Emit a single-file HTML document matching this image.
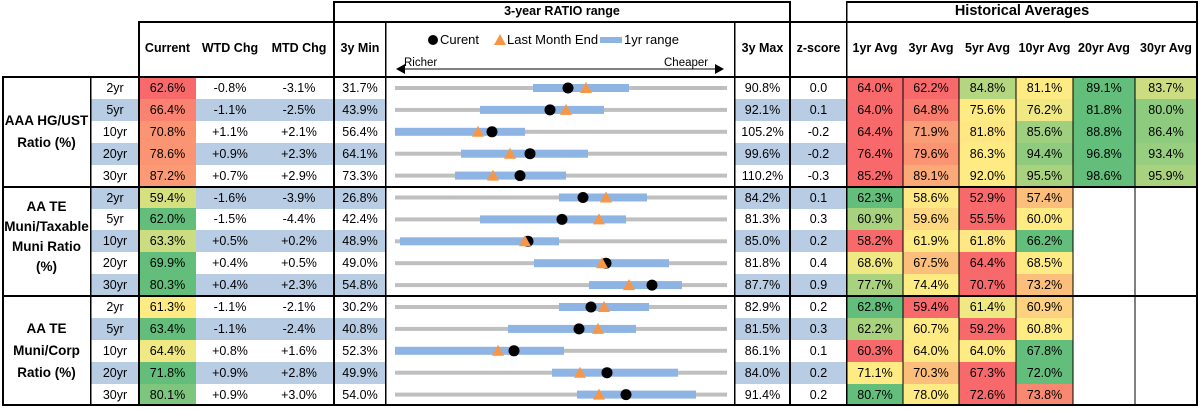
<!DOCTYPE html>
<html><head><meta charset="utf-8">
<style>
*{margin:0;padding:0;box-sizing:border-box}
body{width:1199px;height:409px;background:#fff;position:relative;overflow:hidden;font-family:"Liberation Sans",Arial,sans-serif;font-size:12.5px;color:#000}
.r{position:absolute;left:0;width:1199px;height:22px}
.r i{font-style:normal;position:absolute;top:0;height:22px;line-height:22px;text-align:center}
.t{left:91px;width:48px}.cu{left:139px;width:57px}.w{left:196px;width:68px}.m{left:264px;width:70px}
.mn{left:334px;width:52px}.mx{left:735px;width:55px}.z{left:790px;width:57px}
.a{left:847px;width:56px}.b{left:903px;width:56px}.c{left:959px;width:57px}.d{left:1016px;width:57px}.e{left:1073px;width:62px}.f{left:1135px;width:62px}
.s .t,.s .w,.s .m,.s .mn,.s .mx,.s .z{background:#b8cce4}
.h{position:absolute;font-weight:bold;text-align:center;font-size:12.5px}
.ln{position:absolute;background:#000}
.g{position:absolute;left:2px;width:89px;font-weight:bold;text-align:center;font-size:13.5px;line-height:22px}
</style></head><body>

<div class="h" style="left:139px;width:57px;top:41px">Current</div>
<div class="h" style="left:196px;width:68px;top:41px">WTD Chg</div>
<div class="h" style="left:264px;width:70px;top:41px">MTD Chg</div>
<div class="h" style="left:334px;width:52px;top:41px">3y Min</div>
<div class="h" style="left:735px;width:55px;top:41px">3y Max</div>
<div class="h" style="left:790px;width:57px;top:41px">z-score</div>
<div class="h" style="left:847px;width:56px;top:41px">1yr Avg</div>
<div class="h" style="left:903px;width:56px;top:41px">3yr Avg</div>
<div class="h" style="left:959px;width:57px;top:41px">5yr Avg</div>
<div class="h" style="left:1016px;width:57px;top:41px">10yr Avg</div>
<div class="h" style="left:1073px;width:62px;top:41px">20yr Avg</div>
<div class="h" style="left:1135px;width:62px;top:41px">30yr Avg</div>
<div class="h" style="left:334px;width:456px;top:4px">3-year RATIO range</div>
<div class="h" style="left:847px;width:350px;top:3px;font-size:14.5px">Historical Averages</div>
<div style="position:absolute;left:440px;top:32px;font-size:13px">Curent</div>
<div style="position:absolute;left:507px;top:32px;font-size:13px">Last Month End</div>
<div style="position:absolute;left:624px;top:32px;font-size:13px">1yr range</div>
<div style="position:absolute;left:404px;top:57px;font-size:11.5px">Richer</div>
<div style="position:absolute;left:664px;top:57px;font-size:11.5px">Cheaper</div>

<div class="g" style="top:110px">AAA HG/UST<br>Ratio (%)</div>
<div class="g" style="top:197px;line-height:20px">AA TE<br>Muni/Taxable<br>Muni Ratio<br>(%)</div>
<div class="g" style="top:318px">AA TE<br>Muni/Corp<br>Ratio (%)</div>

<div class="r" style="top:77px"><i class="t">2yr</i><i class="cu" style="background:#f8696b">62.6%</i><i class="w">-0.8%</i><i class="m">-3.1%</i><i class="mn">31.7%</i><i class="mx">90.8%</i><i class="z">0.0</i><i class="a" style="background:#f8696b">64.0%</i><i class="b" style="background:#f8696b">62.2%</i><i class="c" style="background:#b5d680">84.8%</i><i class="d" style="background:#ffeb84">81.1%</i><i class="e" style="background:#63be7b">89.1%</i><i class="f" style="background:#cbdc81">83.7%</i></div>
<div class="r s" style="top:98.9px"><i class="t">5yr</i><i class="cu" style="background:#f98370">66.4%</i><i class="w">-1.1%</i><i class="m">-2.5%</i><i class="mn">43.9%</i><i class="mx">92.1%</i><i class="z">0.1</i><i class="a" style="background:#f8696b">64.0%</i><i class="b" style="background:#f97b6e">64.8%</i><i class="c" style="background:#ffeb84">75.6%</i><i class="d" style="background:#f0e883">76.2%</i><i class="e" style="background:#63be7b">81.8%</i><i class="f" style="background:#8ecb7e">80.0%</i></div>
<div class="r" style="top:120.8px"><i class="t">10yr</i><i class="cu" style="background:#fa9473">70.8%</i><i class="w">+1.1%</i><i class="m">+2.1%</i><i class="mn">56.4%</i><i class="mx">105.2%</i><i class="z">-0.2</i><i class="a" style="background:#f8696b">64.4%</i><i class="b" style="background:#fa9c75">71.9%</i><i class="c" style="background:#ffe883">81.8%</i><i class="d" style="background:#9fd07f">85.6%</i><i class="e" style="background:#63be7b">88.8%</i><i class="f" style="background:#8ecb7e">86.4%</i></div>
<div class="r s" style="top:142.7px"><i class="t">20yr</i><i class="cu" style="background:#fa9473">78.6%</i><i class="w">+0.9%</i><i class="m">+2.3%</i><i class="mn">64.1%</i><i class="mx">99.6%</i><i class="z">-0.2</i><i class="a" style="background:#f8696b">76.4%</i><i class="b" style="background:#fa9473">79.6%</i><i class="c" style="background:#ffeb84">86.3%</i><i class="d" style="background:#8fcb7e">94.4%</i><i class="e" style="background:#63be7b">96.8%</i><i class="f" style="background:#97ce7f">93.4%</i></div>
<div class="r" style="top:164.6px"><i class="t">30yr</i><i class="cu" style="background:#fb9a74">87.2%</i><i class="w">+0.7%</i><i class="m">+2.9%</i><i class="mn">73.3%</i><i class="mx">110.2%</i><i class="z">-0.3</i><i class="a" style="background:#f8696b">85.2%</i><i class="b" style="background:#fbaa77">89.1%</i><i class="c" style="background:#ffeb84">92.0%</i><i class="d" style="background:#a9d27f">95.5%</i><i class="e" style="background:#63be7b">98.6%</i><i class="f" style="background:#a9d27f">95.9%</i></div>

<div class="r s" style="top:186.5px"><i class="t">2yr</i><i class="cu" style="background:#d6e081">59.4%</i><i class="w">-1.6%</i><i class="m">-3.9%</i><i class="mn">26.8%</i><i class="mx">84.2%</i><i class="z">0.1</i><i class="a" style="background:#63be7b">62.3%</i><i class="b" style="background:#ffe883">58.6%</i><i class="c" style="background:#f8696b">52.9%</i><i class="d" style="background:#fcbf7b">57.4%</i></div>
<div class="r" style="top:208.4px"><i class="t">5yr</i><i class="cu" style="background:#63be7b">62.0%</i><i class="w">-1.5%</i><i class="m">-4.4%</i><i class="mn">42.4%</i><i class="mx">81.3%</i><i class="z">0.3</i><i class="a" style="background:#a9d27f">60.9%</i><i class="b" style="background:#fed880">59.6%</i><i class="c" style="background:#f8696b">55.5%</i><i class="d" style="background:#ffeb84">60.0%</i></div>
<div class="r s" style="top:230.3px"><i class="t">10yr</i><i class="cu" style="background:#cbdc81">63.3%</i><i class="w">+0.5%</i><i class="m">+0.2%</i><i class="mn">48.9%</i><i class="mx">85.0%</i><i class="z">0.2</i><i class="a" style="background:#f8696b">58.2%</i><i class="b" style="background:#ffeb84">61.9%</i><i class="c" style="background:#ffe883">61.8%</i><i class="d" style="background:#63be7b">66.2%</i></div>
<div class="r" style="top:252.2px"><i class="t">20yr</i><i class="cu" style="background:#63be7b">69.9%</i><i class="w">+0.4%</i><i class="m">+0.5%</i><i class="mn">49.0%</i><i class="mx">81.8%</i><i class="z">0.4</i><i class="a" style="background:#f0e883">68.6%</i><i class="b" style="background:#fcbf7b">67.5%</i><i class="c" style="background:#f8696b">64.4%</i><i class="d" style="background:#ffeb84">68.5%</i></div>
<div class="r s" style="top:274.1px"><i class="t">30yr</i><i class="cu" style="background:#63be7b">80.3%</i><i class="w">+0.4%</i><i class="m">+2.3%</i><i class="mn">54.8%</i><i class="mx">87.7%</i><i class="z">0.9</i><i class="a" style="background:#a9d27f">77.7%</i><i class="b" style="background:#ffeb84">74.4%</i><i class="c" style="background:#f8696b">70.7%</i><i class="d" style="background:#fcbf7b">73.2%</i></div>

<div class="r" style="top:296px"><i class="t">2yr</i><i class="cu" style="background:#ffeb84">61.3%</i><i class="w">-1.1%</i><i class="m">-2.1%</i><i class="mn">30.2%</i><i class="mx">82.9%</i><i class="z">0.2</i><i class="a" style="background:#63be7b">62.8%</i><i class="b" style="background:#f8696b">59.4%</i><i class="c" style="background:#f0e883">61.4%</i><i class="d" style="background:#fdd17f">60.9%</i></div>
<div class="r s" style="top:317.9px"><i class="t">5yr</i><i class="cu" style="background:#63be7b">63.4%</i><i class="w">-1.1%</i><i class="m">-2.4%</i><i class="mn">40.8%</i><i class="mx">81.5%</i><i class="z">0.3</i><i class="a" style="background:#a9d27f">62.2%</i><i class="b" style="background:#ffeb84">60.7%</i><i class="c" style="background:#f8696b">59.2%</i><i class="d" style="background:#ffeb84">60.8%</i></div>
<div class="r" style="top:339.8px"><i class="t">10yr</i><i class="cu" style="background:#f0e883">64.4%</i><i class="w">+0.8%</i><i class="m">+1.6%</i><i class="mn">52.3%</i><i class="mx">86.1%</i><i class="z">0.1</i><i class="a" style="background:#f8696b">60.3%</i><i class="b" style="background:#ffeb84">64.0%</i><i class="c" style="background:#ffeb84">64.0%</i><i class="d" style="background:#63be7b">67.8%</i></div>
<div class="r s" style="top:361.7px"><i class="t">20yr</i><i class="cu" style="background:#63be7b">71.8%</i><i class="w">+0.9%</i><i class="m">+2.8%</i><i class="mn">49.9%</i><i class="mx">84.0%</i><i class="z">0.2</i><i class="a" style="background:#ffeb84">71.1%</i><i class="b" style="background:#fcbf7b">70.3%</i><i class="c" style="background:#f8696b">67.3%</i><i class="d" style="background:#63be7b">72.0%</i></div>
<div class="r" style="top:383.6px"><i class="t">30yr</i><i class="cu" style="background:#7ec67d">80.1%</i><i class="w">+0.9%</i><i class="m">+3.0%</i><i class="mn">54.0%</i><i class="mx">91.4%</i><i class="z">0.2</i><i class="a" style="background:#63be7b">80.7%</i><i class="b" style="background:#ffeb84">78.0%</i><i class="c" style="background:#f8696b">72.6%</i><i class="d" style="background:#f98870">73.8%</i></div>

<svg width="1199" height="409" style="position:absolute;left:0;top:0">
<defs>
<g id="dot"><circle r="5.5" fill="#000"/></g>
<g id="tri"><polygon points="0,-6 6,5 -6,5" fill="#f79646"/></g>
</defs>
<!-- legend -->
<circle cx="433" cy="40" r="5" fill="#000"/>
<polygon points="500,34 506,45 494,45" fill="#f79646"/>
<rect x="600" y="37" width="22" height="6" fill="#8db4e2"/>
<line x1="398" y1="69" x2="720" y2="69" stroke="#000" stroke-width="1"/>
<polygon points="396,69 405,64 405,74" fill="#000"/>
<polygon points="724,69 715,64 715,74" fill="#000"/>
<g id="rows">
<g transform="translate(0,88)"><rect x="395" y="-2" width="332" height="4" fill="#bfbfbf"/><rect x="533" y="-4" width="96" height="8" fill="#8db4e2"/><use href="#dot" x="568"/><use href="#tri" x="586"/></g>
<g transform="translate(0,109.9)"><rect x="395" y="-2" width="332" height="4" fill="#bfbfbf"/><rect x="480" y="-4" width="124" height="8" fill="#8db4e2"/><use href="#dot" x="550"/><use href="#tri" x="566"/></g>
<g transform="translate(0,131.8)"><rect x="395" y="-2" width="332" height="4" fill="#bfbfbf"/><rect x="395" y="-4" width="130" height="8" fill="#8db4e2"/><use href="#tri" x="478"/><use href="#dot" x="492"/></g>
<g transform="translate(0,153.7)"><rect x="395" y="-2" width="332" height="4" fill="#bfbfbf"/><rect x="461" y="-4" width="127" height="8" fill="#8db4e2"/><use href="#tri" x="510"/><use href="#dot" x="530"/></g>
<g transform="translate(0,175.6)"><rect x="395" y="-2" width="332" height="4" fill="#bfbfbf"/><rect x="455" y="-4" width="111" height="8" fill="#8db4e2"/><use href="#tri" x="493"/><use href="#dot" x="520"/></g>
<g transform="translate(0,197.5)"><rect x="395" y="-2" width="332" height="4" fill="#bfbfbf"/><rect x="559" y="-4" width="88" height="8" fill="#8db4e2"/><use href="#dot" x="583"/><use href="#tri" x="606"/></g>
<g transform="translate(0,219.4)"><rect x="395" y="-2" width="332" height="4" fill="#bfbfbf"/><rect x="480" y="-4" width="146" height="8" fill="#8db4e2"/><use href="#dot" x="562"/><use href="#tri" x="599"/></g>
<g transform="translate(0,241.3)"><rect x="395" y="-2" width="332" height="4" fill="#bfbfbf"/><rect x="400" y="-4" width="159" height="8" fill="#8db4e2"/><use href="#dot" x="528"/><use href="#tri" x="525"/></g>
<g transform="translate(0,263.2)"><rect x="395" y="-2" width="332" height="4" fill="#bfbfbf"/><rect x="534" y="-4" width="135" height="8" fill="#8db4e2"/><use href="#dot" x="606"/><use href="#tri" x="602"/></g>
<g transform="translate(0,285.1)"><rect x="395" y="-2" width="332" height="4" fill="#bfbfbf"/><rect x="589" y="-4" width="93" height="8" fill="#8db4e2"/><use href="#tri" x="629"/><use href="#dot" x="652"/></g>
<g transform="translate(0,307)"><rect x="395" y="-2" width="332" height="4" fill="#bfbfbf"/><rect x="559" y="-4" width="90" height="8" fill="#8db4e2"/><use href="#dot" x="591"/><use href="#tri" x="604"/></g>
<g transform="translate(0,328.9)"><rect x="395" y="-2" width="332" height="4" fill="#bfbfbf"/><rect x="508" y="-4" width="128" height="8" fill="#8db4e2"/><use href="#dot" x="579"/><use href="#tri" x="598"/></g>
<g transform="translate(0,350.8)"><rect x="395" y="-2" width="332" height="4" fill="#bfbfbf"/><rect x="395" y="-4" width="169" height="8" fill="#8db4e2"/><use href="#tri" x="498"/><use href="#dot" x="514"/></g>
<g transform="translate(0,372.7)"><rect x="395" y="-2" width="332" height="4" fill="#bfbfbf"/><rect x="552" y="-4" width="126" height="8" fill="#8db4e2"/><use href="#tri" x="580"/><use href="#dot" x="607"/></g>
<g transform="translate(0,394.6)"><rect x="395" y="-2" width="332" height="4" fill="#bfbfbf"/><rect x="577" y="-4" width="119" height="8" fill="#8db4e2"/><use href="#tri" x="599"/><use href="#dot" x="626"/></g>
</g>
<!-- grid lines -->
<g fill="#000">
<rect x="333" y="1" width="458" height="2"/>
<rect x="846" y="1" width="352" height="2"/>
<rect x="139" y="21" width="1059" height="2"/>
<rect x="2" y="76" width="1196" height="2"/>
<rect x="2" y="186" width="1196" height="2"/>
<rect x="2" y="295" width="1196" height="2"/>
<rect x="2" y="404" width="1196" height="2"/>
<rect x="2" y="76" width="2" height="330"/>
<rect x="90" y="76" width="1.5" height="330"/>
<rect x="138" y="21" width="2" height="385"/>
<rect x="333" y="1" width="2" height="405"/>
<rect x="385" y="21" width="1.5" height="385"/>
<rect x="734" y="21" width="1.5" height="385"/>
<rect x="789" y="1" width="2" height="405"/>
<rect x="846" y="1" width="1.5" height="405"/>
<rect x="902.5" y="76" width="1" height="330"/>
<rect x="958.5" y="76" width="1" height="330"/>
<rect x="1015.5" y="76" width="1" height="330"/>
<rect x="1072.5" y="76" width="1" height="330"/>
<rect x="1134.5" y="76" width="1" height="330"/>
<rect x="1196" y="1" width="2" height="405"/>
</g>
</svg>
</body></html>
